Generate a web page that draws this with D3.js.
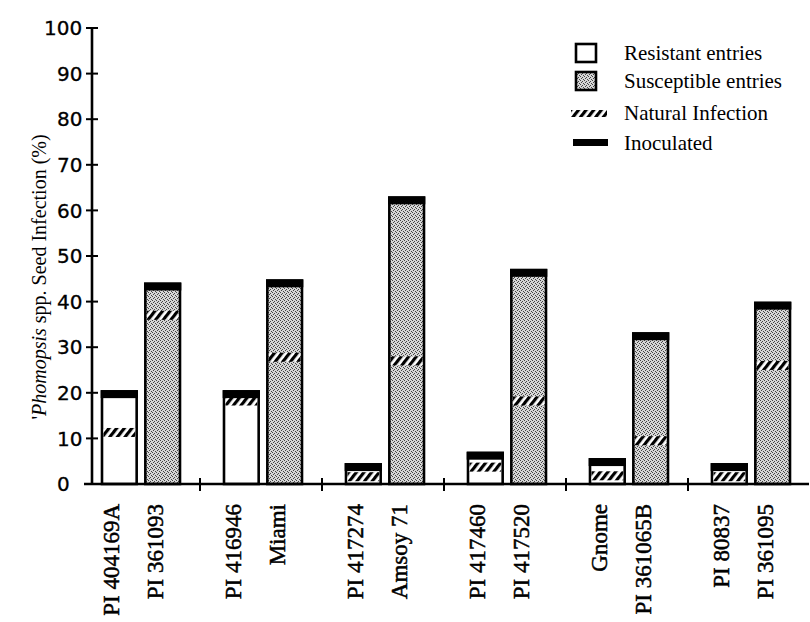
<!DOCTYPE html>
<html>
<head>
<meta charset="utf-8">
<script src="https://cdn.jsdelivr.net/npm/d3@7"></script>
<style>
  html, body { margin: 0; padding: 0; background: #fff; }
  svg { display: block; }
</style>
</head>
<body>
<svg id="chart" width="810" height="622"></svg>
<script>
// Entries, paired by resistant / susceptible within each group
const resistantEntries = ["PI 404169A", "PI 416946", "PI 417274", "PI 417460", "Gnome", "PI 80837"];
const susceptibleEntries = ["PI 361093", "Miami", "Amsoy 71", "PI 417520", "PI 361065B", "PI 361095"];

// Seed infection (%) after inoculation, and with natural infection only
const resistantInoculated = [20.3, 20.3, 4.3, 6.8, 5.4, 4.3];
const resistantNatural = [11.3, 18.2, 1.6, 3.7, 1.8, 1.6];
const susceptibleInoculated = [43.9, 44.6, 62.8, 46.9, 33.0, 39.7];
const susceptibleNatural = [37.0, 27.8, 27.0, 18.2, 9.5, 26.0];

const yTicks = [0, 10, 20, 30, 40, 50, 60, 70, 80, 90, 100];
const kinds = ["resistant", "susceptible"];
const legendItems = ["Resistant entries", "Susceptible entries", "Natural Infection", "Inoculated"];

const svg = d3.select("#chart");
const serif = "'Liberation Serif', 'Times New Roman', serif";
const sans = "'DejaVu Sans', sans-serif";

const y = d3.scaleLinear().domain([0, 100]).range([484, 28]);
const groupIdx = d3.range(resistantEntries.length);
const xGroup = d3.scaleBand().domain(groupIdx).range([78, 810]);
const xKind = d3.scaleBand().domain(kinds).range([24, 102]).paddingInner(0.2);

// Fill patterns
const defs = svg.append("defs");
const stip = defs.append("pattern").attr("id", "stipple")
  .attr("patternUnits", "userSpaceOnUse").attr("width", 4).attr("height", 4);
stip.append("rect").attr("width", 4).attr("height", 4).attr("fill", "#d6d6d6");
[[0, 0], [2, 1], [1, 2], [3, 3]].forEach(([px, py]) =>
  stip.append("rect").attr("x", px).attr("y", py).attr("width", 1).attr("height", 1).attr("fill", "#444"));

const hatch = defs.append("pattern").attr("id", "hatch")
  .attr("patternUnits", "userSpaceOnUse").attr("width", 6).attr("height", 6)
  .attr("patternTransform", "rotate(38)");
hatch.append("rect").attr("width", 6).attr("height", 6).attr("fill", "#fff");
hatch.append("rect").attr("width", 3.2).attr("height", 6).attr("fill", "#000");

// Build the bar records
const bars = [];
groupIdx.forEach(i => {
  bars.push({ g: i, kind: "resistant", name: resistantEntries[i], inoc: resistantInoculated[i], nat: resistantNatural[i] });
  bars.push({ g: i, kind: "susceptible", name: susceptibleEntries[i], inoc: susceptibleInoculated[i], nat: susceptibleNatural[i] });
});
const bx = d => xGroup(d.g) + xKind(d.kind);
const bw = xKind.bandwidth();

const barG = svg.append("g");
const bar = barG.selectAll("g.bar").data(bars).join("g").attr("class", "bar");

bar.append("rect")
  .attr("x", bx).attr("width", bw)
  .attr("y", d => y(d.inoc)).attr("height", d => y(0) - y(d.inoc))
  .attr("fill", d => d.kind === "resistant" ? "#fff" : "url(#stipple)")
  .attr("stroke", "#000").attr("stroke-width", 2.6);

// natural infection level
const hatchH = 9;
bar.append("rect")
  .attr("x", d => bx(d) + 1.5).attr("width", bw - 3)
  .attr("y", d => Math.min(y(d.nat) - hatchH / 2, y(0) - hatchH - 1.5))
  .attr("height", hatchH)
  .attr("fill", "url(#hatch)");

// inoculated level
bar.append("rect")
  .attr("x", d => bx(d) - 1.3).attr("width", bw + 2.6)
  .attr("y", d => y(d.inoc) - 1.3).attr("height", 8)
  .attr("fill", "#000");

// Axes
const axis = svg.append("g").attr("stroke", "#000");
axis.append("line").attr("x1", 92).attr("x2", 92).attr("y1", y(100)).attr("y2", y(0) + 1).attr("stroke-width", 2.6);
axis.append("line").attr("x1", 84).attr("x2", 809).attr("y1", y(0)).attr("y2", y(0)).attr("stroke-width", 2.6);
axis.selectAll("line.yt").data(yTicks).join("line").attr("class", "yt")
  .attr("x1", 86).attr("x2", 98).attr("y1", d => y(d)).attr("y2", d => y(d)).attr("stroke-width", 2);
axis.selectAll("line.xt").data(groupIdx.slice(1)).join("line").attr("class", "xt")
  .attr("x1", d => xGroup(d)).attr("x2", d => xGroup(d))
  .attr("y1", y(0) - 6).attr("y2", y(0) + 7).attr("stroke-width", 2);

// tick numbers share a left edge; the three-digit one steps out by a digit
svg.append("g").selectAll("text").data(yTicks).join("text")
  .attr("x", d => d >= 100 ? 44 : 57).attr("y", d => y(d)).attr("dy", "0.36em")
  .attr("text-anchor", "start")
  .attr("font-family", sans).attr("font-size", 20).attr("fill", "#000")
  .attr("stroke", "#000").attr("stroke-width", 0.3)
  .text(d => d);

// Axis title
const title = svg.append("text")
  .attr("transform", "translate(46,277) rotate(-90)")
  .attr("text-anchor", "middle")
  .attr("font-family", serif).attr("font-size", 20).attr("fill", "#000");
title.append("tspan").text("'");
title.append("tspan").attr("font-style", "italic").text("Phomopsis");
title.append("tspan").text(" spp.  Seed Infection (%)");

// Entry labels
svg.append("g").selectAll("text").data(bars).join("text")
  .attr("transform", d => `translate(${bx(d) + bw / 2 - 8},504) rotate(-90)`)
  .attr("dy", "0.35em")
  .attr("text-anchor", "end")
  .attr("font-family", serif).attr("font-size", 23).attr("fill", "#000")
  .attr("stroke", "#000").attr("stroke-width", 0.5)
  .text(d => d.name);

// Legend
const lg = svg.append("g").attr("font-family", serif).attr("font-size", 21).attr("fill", "#000");
const rowY = [53, 81, 113, 143];
lg.append("rect").attr("x", 576).attr("y", rowY[0] - 9).attr("width", 20).attr("height", 18)
  .attr("fill", "#fff").attr("stroke", "#000").attr("stroke-width", 2.6);
lg.append("rect").attr("x", 576).attr("y", rowY[1] - 9).attr("width", 20).attr("height", 18)
  .attr("fill", "url(#stipple)").attr("stroke", "#000").attr("stroke-width", 2.6);
lg.append("rect").attr("x", 571).attr("y", rowY[2] - 3).attr("width", 36).attr("height", 7)
  .attr("fill", "url(#hatch)");
lg.append("rect").attr("x", 573).attr("y", rowY[3] - 4).attr("width", 35).attr("height", 7)
  .attr("fill", "#000");
lg.selectAll("text").data(legendItems).join("text")
  .attr("x", 624).attr("y", (d, i) => rowY[i]).attr("dy", "0.35em")
  .text(d => d);
</script>
</body>
</html>
